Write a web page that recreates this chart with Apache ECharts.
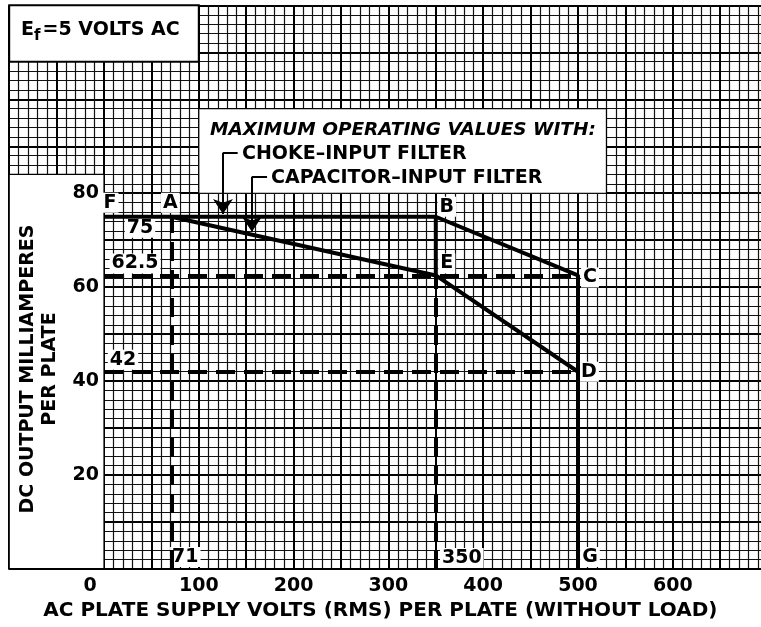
<!DOCTYPE html>
<html>
<head>
<meta charset="utf-8">
<script src="https://cdn.jsdelivr.net/npm/echarts/dist/echarts.min.js"></script>
<style>
  html, body { margin: 0; background: #fff; }
  #chart { width: 761px; height: 627px; }
</style>
</head>
<body>
<div id="chart"></div>
<script>
var FONT = 'DejaVu Sans';
var INK = '#000';

// tick labels
var voltTicks = [0, 100, 200, 300, 400, 500, 600];
var maTicks = [20, 40, 60, 80];

// choke-input filter limit: F - B - C - G
var chokeVolts = [0, 350, 500, 500];
var chokeMa = [75, 75, 62.5, 0];

// capacitor-input filter limit: A - E - D
var capVolts = [71, 350, 500];
var capMa = [75, 62.5, 42];

// lettered points
var pointNames = ['F', 'A', 'B', 'E', 'C', 'D', 'G'];
var pointVolts = [0, 71, 350, 350, 500, 500, 500];
var pointMa = [75, 75, 75, 62.5, 62.5, 42, 0];

// dashed read-off lines
var readMa = [62.5, 42];        // horizontal, 0 V .. 500 V
var readVolts = [71, 350];      // vertical, 0 mA .. curve
var readVoltsTop = [75, 62.5];

// numbers written beside the read-off lines
var valueText = ['75', '62.5', '42', '71', '350'];
var valueVolts = [0, 0, 0, 71, 350];
var valueMa = [75, 62.5, 42, 0, 0];

// ---- layout (pixels) ----
var X0 = 104, PXV = 0.948;   // 0 V and px per volt
var Y0 = 569, PXMA = 4.697;  // 0 mA and px per mA
var GRID_LEFT = X0 - 100 * PXV;

var pointOffsets = {
  F: [6, -14], A: [-1, -14], B: [11, -10], E: [11, -12],
  C: [12, 2], D: [11, 0], G: [12, -12]
};
var valueOffsets = [[36, 11], [31, -12], [19, -12], [14, -12], [26, -11]];

// leader lines of the legend (data units): elbow, then arrow down to the curve
var chokeLeader = [[141, 88.6], [125.5, 88.6], [125.5, 75.6]];
var capLeader = [[172, 83.5], [156, 83.5], [156, 71.8]];

function zip(a, b) {
  return a.map(function (v, i) { return [v, b[i]]; });
}

var dashedLines = [];
readMa.forEach(function (m) {
  dashedLines.push({ coords: [[0, m], [500, m]] });
});
readVolts.forEach(function (v, i) {
  dashedLines.push({ coords: [[v, 0], [v, readVoltsTop[i]]] });
});

var leaderTops = [chokeLeader, capLeader].map(function (l) { return { coords: [l[0], l[1]] }; });
var leaderArrows = [chokeLeader, capLeader].map(function (l) { return { coords: [l[1], l[2]] }; });

var chart = echarts.init(document.getElementById('chart'), null, { renderer: 'canvas' });

var paperRule = {
  splitLine: { show: true, lineStyle: { color: '#000', width: 2 } },
  minorTick: { show: false, splitNumber: 5 },
  minorSplitLine: { show: true, lineStyle: { color: '#111', width: 1.2 } }
};

var markLabel = {
  show: true, position: 'inside', formatter: '{b}',
  fontFamily: FONT, fontSize: 19, fontWeight: 'bold', color: INK,
  textBorderWidth: 0, textBorderColor: 'transparent',
  backgroundColor: '#fff', padding: [1, 2, 0, 2]
};

var option = {
  backgroundColor: '#fff',
  animation: false,
  grid: {
    left: GRID_LEFT,
    top: Y0 - 120 * PXMA,
    width: 800 * PXV,
    height: 120 * PXMA,
    containLabel: false,
    outerBoundsMode: 'none'
  },
  xAxis: [Object.assign({
    // graph paper, vertical rulings
    type: 'value', min: -100, max: 700, interval: 50,
    position: 'bottom', z: 0,
    axisLine: { show: false }, axisTick: { show: false }, axisLabel: { show: false }
  }, paperRule), {
    // labels
    type: 'value', min: -100, max: 700, interval: 50,
    position: 'bottom', z: 6,
    axisLine: { show: true, onZero: false, lineStyle: { color: INK, width: 2 } },
    axisTick: { show: false },
    splitLine: { show: false },
    axisLabel: {
      margin: 8, fontFamily: FONT, fontSize: 19, fontWeight: 'bold', color: INK,
      formatter: function (v) {
        if (voltTicks.indexOf(v) < 0) return '';
        return v === 0 ? '{z|0}' : String(v);
      },
      rich: { z: { fontFamily: FONT, fontSize: 19, fontWeight: 'bold', color: INK, padding: [0, 28, 0, 0] } }
    },
    name: 'AC PLATE SUPPLY VOLTS (RMS) PER PLATE (WITHOUT LOAD)',
    nameLocation: 'middle', nameGap: 31,
    nameTextStyle: { fontFamily: FONT, fontSize: 20, fontWeight: 'bold', color: INK, padding: [0, 16, 0, 0] }
  }],
  yAxis: [Object.assign({
    // graph paper, horizontal rulings
    type: 'value', min: 0, max: 120, interval: 10,
    position: 'left', z: 0,
    axisLine: { show: false }, axisTick: { show: false }, axisLabel: { show: false }
  }, paperRule), {
    // labels, sitting on the 0 V ruling
    type: 'value', min: 0, max: 120, interval: 10,
    position: 'left', z: 6, offset: GRID_LEFT - X0,
    axisLine: { show: false, onZero: false },
    axisTick: { show: false },
    splitLine: { show: false },
    axisLabel: {
      margin: 5, fontFamily: FONT, fontSize: 19, fontWeight: 'bold', color: INK,
      formatter: function (v) { return maTicks.indexOf(v) < 0 ? '' : String(v); }
    }
  }],
  graphic: [{
    type: 'text', left: 21, top: 21, z: 10,
    style: {
      text: '{a|E}{s|f}{a|=5 VOLTS AC}',
      rich: {
        a: { fontFamily: FONT, fontSize: 19, fontWeight: 'bold', fill: INK },
        s: { fontFamily: FONT, fontSize: 15, fontWeight: 'bold', fill: INK, padding: [11, 2, 0, 0] }
      }
    }
  }, {
    type: 'text', x: 210, y: 130, z: 10,
    style: {
      text: 'MAXIMUM OPERATING VALUES WITH:', fontFamily: FONT, fontSize: 18.5,
      fontWeight: 'bold', fontStyle: 'italic', fill: INK,
      align: 'left', verticalAlign: 'middle'
    }
  }, {
    type: 'text', x: 242, y: 154, z: 10,
    style: {
      text: 'CHOKE–INPUT FILTER', fontFamily: FONT, fontSize: 19, fontWeight: 'bold', fill: INK,
      align: 'left', verticalAlign: 'middle'
    }
  }, {
    type: 'text', x: 271, y: 178, z: 10,
    style: {
      text: 'CAPACITOR–INPUT FILTER', fontFamily: FONT, fontSize: 19, fontWeight: 'bold', fill: INK,
      align: 'left', verticalAlign: 'middle'
    }
  }, {
    type: 'text', x: 39, y: 369, rotation: Math.PI / 2, z: 10,
    style: {
      text: 'DC OUTPUT MILLIAMPERES\nPER PLATE', fontFamily: FONT, fontSize: 19,
      fontWeight: 'bold', lineHeight: 22, fill: INK, align: 'center', verticalAlign: 'middle'
    }
  }],
  series: [{
    // white panels cut out of the graph paper
    type: 'line', z: 1, data: [[0, 0]], showSymbol: false,
    lineStyle: { opacity: 0 }, silent: true,
    markArea: {
      silent: true,
      itemStyle: { color: '#fff', borderColor: INK, borderWidth: 1.2 },
      data: [
        [{ coord: [-100, 108], itemStyle: { borderWidth: 2 } }, { coord: [100, 120] }],
        [{ coord: [100, 80] }, { coord: [530, 98] }],
        [{ coord: [-100, 0] }, { coord: [0, 84] }]
      ]
    }
  }, {
    name: 'Choke-input filter', type: 'line', z: 4,
    data: zip(chokeVolts, chokeMa), symbol: 'none',
    lineStyle: { color: INK, width: 4 }
  }, {
    name: 'Capacitor-input filter', type: 'line', z: 4,
    data: zip(capVolts, capMa), symbol: 'none',
    lineStyle: { color: INK, width: 4 }
  }, {
    // B - E
    type: 'line', z: 4, symbol: 'none',
    data: [[pointVolts[2], pointMa[2]], [pointVolts[3], pointMa[3]]],
    lineStyle: { color: INK, width: 4 }
  }, {
    type: 'lines', coordinateSystem: 'cartesian2d', z: 4,
    data: dashedLines, symbol: 'none',
    lineStyle: { color: INK, width: 4, type: [19, 9], opacity: 1 }
  }, {
    type: 'lines', coordinateSystem: 'cartesian2d', z: 4,
    data: leaderTops, symbol: 'none',
    lineStyle: { color: INK, width: 2, opacity: 1 }
  }, {
    type: 'lines', coordinateSystem: 'cartesian2d', z: 4,
    data: leaderArrows, symbol: ['none', 'arrow'], symbolSize: [8, 15],
    lineStyle: { color: INK, width: 2, opacity: 1 }
  }, {
    type: 'scatter', z: 3, symbolSize: 0, silent: true,
    itemStyle: { opacity: 1 },
    data: pointNames.map(function (n, i) {
      return { name: n, value: [pointVolts[i], pointMa[i]], label: { offset: pointOffsets[n] } };
    }),
    label: markLabel
  }, {
    type: 'scatter', z: 3, symbolSize: 0, silent: true,
    itemStyle: { opacity: 1 },
    data: valueText.map(function (t, i) {
      return { name: t, value: [valueVolts[i], valueMa[i]], label: { offset: valueOffsets[i] } };
    }),
    label: markLabel
  }]
};

chart.setOption(option);
</script>
</body>
</html>
